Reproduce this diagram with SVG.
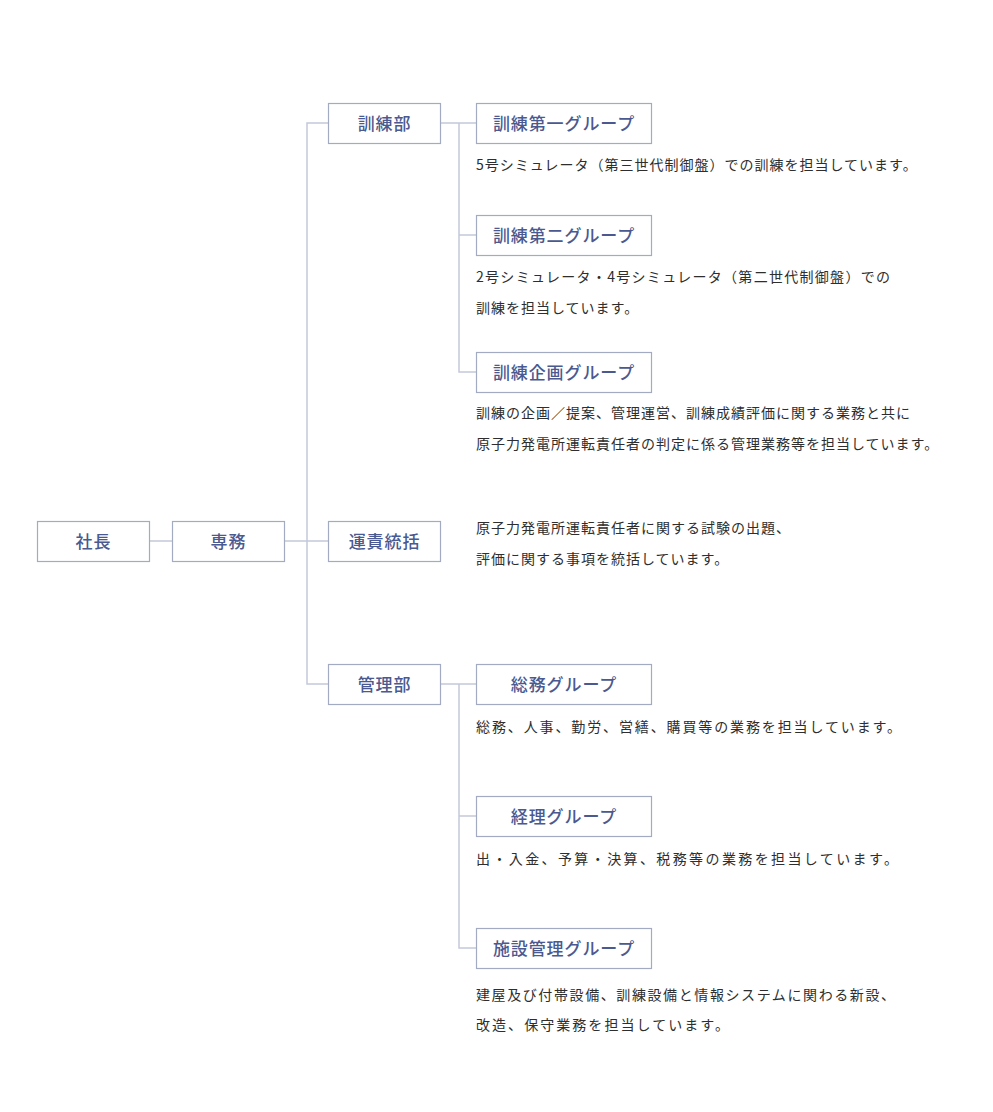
<svg xmlns="http://www.w3.org/2000/svg" width="993" height="1112" viewBox="0 0 993 1112">
<style>
.box{fill:#fff;stroke:#a3abc3;stroke-width:1.2}
.lbl{font-family:"Noto Sans CJK JP","Noto Sans",sans-serif;font-size:17px;font-weight:500;fill:#4a5990;text-anchor:middle;letter-spacing:0.9px}
.desc{font-family:"Noto Sans CJK JP","Noto Sans",sans-serif;font-size:14px;fill:#2e2e2e;letter-spacing:1px}
.ln{fill:none;stroke:#c3c9da;stroke-width:1.5}
</style>
<rect width="993" height="1112" fill="#fff"/>
<g id="connectors">
<path class="ln" d="M149 541H172"/>
<path class="ln" d="M284 541H328"/>
<path class="ln" d="M328 123H307V684H328"/>
<path class="ln" d="M440 123H476"/>
<path class="ln" d="M459 123V372H476M459 235H476"/>
<path class="ln" d="M440 684H476"/>
<path class="ln" d="M459 684V948H476M459 816H476"/>
</g>
<g id="shacho"><rect class="box" x="37.5" y="521.5" width="112" height="40"/><text class="lbl" x="93.5" y="547.5">社長</text></g>
<g id="senmu"><rect class="box" x="172.5" y="521.5" width="112" height="40"/><text class="lbl" x="228.5" y="547.5">専務</text></g>
<g id="kunrenbu"><rect class="box" x="328.5" y="103.5" width="112" height="40"/><text class="lbl" x="384.5" y="129.5">訓練部</text></g>
<g id="unseki"><rect class="box" x="328.5" y="521.5" width="112" height="40"/><text class="lbl" x="384.5" y="547.5">運責統括</text></g>
<g id="kanribu"><rect class="box" x="328.5" y="664.5" width="112" height="40"/><text class="lbl" x="384.5" y="690.5">管理部</text></g>
<g id="g1"><rect class="box" x="476.5" y="103.5" width="175" height="40"/><text class="lbl" x="564" y="129.5">訓練第一グループ</text>
<text class="desc" x="476" y="170">5号シミュレータ（第三世代制御盤）での訓練を担当しています。</text></g>
<g id="g2"><rect class="box" x="476.5" y="215.5" width="175" height="40"/><text class="lbl" x="564" y="241.5">訓練第二グループ</text>
<text class="desc" x="476" y="282" textLength="415" lengthAdjust="spacing">2号シミュレータ・4号シミュレータ（第二世代制御盤）での</text>
<text class="desc" x="476" y="313">訓練を担当しています。</text></g>
<g id="g3"><rect class="box" x="476.5" y="352.5" width="175" height="40"/><text class="lbl" x="564" y="378.5">訓練企画グループ</text>
<text class="desc" x="476" y="418">訓練の企画／提案、管理運営、訓練成績評価に関する業務と共に</text>
<text class="desc" x="476" y="449">原子力発電所運転責任者の判定に係る管理業務等を担当しています。</text></g>
<g id="unseki-desc">
<text class="desc" x="476" y="533">原子力発電所運転責任者に関する試験の出題、</text>
<text class="desc" x="476" y="564">評価に関する事項を統括しています。</text></g>
<g id="g4"><rect class="box" x="476.5" y="664.5" width="175" height="40"/><text class="lbl" x="564" y="690.5">総務グループ</text>
<text class="desc" x="476" y="732" textLength="426" lengthAdjust="spacing">総務、人事、勤労、営繕、購買等の業務を担当しています。</text></g>
<g id="g5"><rect class="box" x="476.5" y="796.5" width="175" height="40"/><text class="lbl" x="564" y="822.5">経理グループ</text>
<text class="desc" x="476" y="864" textLength="423" lengthAdjust="spacing">出・入金、予算・決算、税務等の業務を担当しています。</text></g>
<g id="g6"><rect class="box" x="476.5" y="928.5" width="175" height="40"/><text class="lbl" x="564" y="954.5">施設管理グループ</text>
<text class="desc" x="476" y="1000" textLength="420" lengthAdjust="spacing">建屋及び付帯設備、訓練設備と情報システムに関わる新設、</text>
<text class="desc" x="476" y="1030" textLength="254" lengthAdjust="spacing">改造、保守業務を担当しています。</text></g>
</svg>
